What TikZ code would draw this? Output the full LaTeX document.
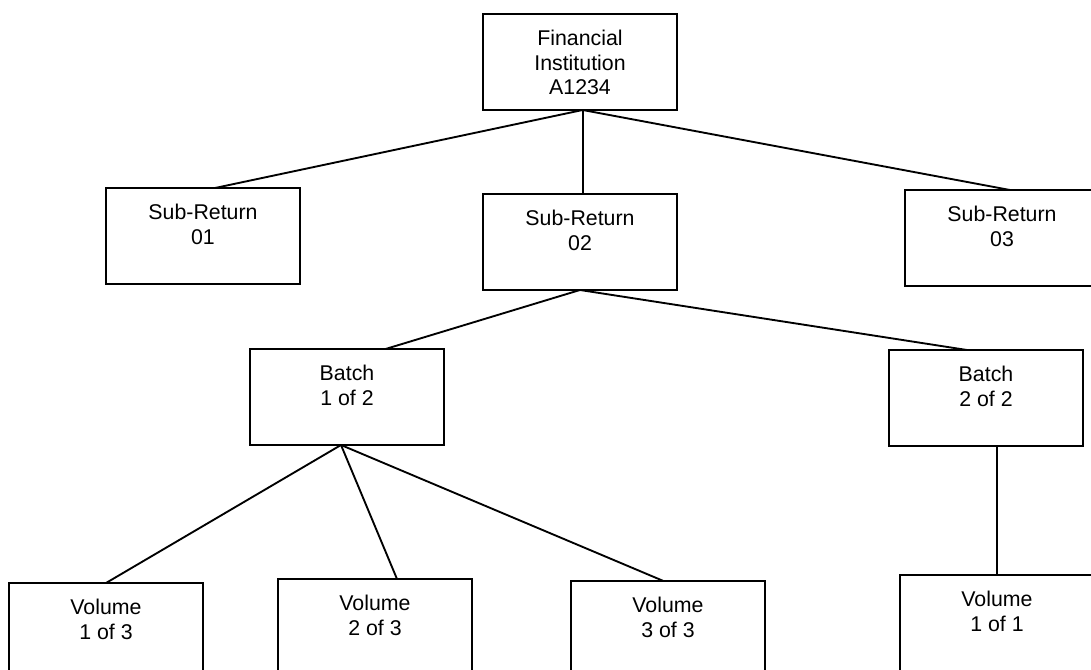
\documentclass[tikz,border=0pt]{standalone}
\usepackage{fontspec}
\setmainfont{Liberation Sans}
\tikzset{
  box/.style={draw, line width=1.4pt, rectangle, minimum width=145.5pt, minimum height=72pt, inner sep=0pt, outer sep=0pt, anchor=north west},
  lab/.style={inner sep=0pt, anchor=north, align=center, font=\fontsize{16}{18.4}\selectfont},
  conn/.style={line width=1.4pt}
}
\newcommand{\mkbox}[4]{%
  \node[box] (#1) at (#2,#3) {};
  \node[lab] (#1-t) at ([yshift=-12pt]#1.north) {#4};
}
\begin{document}
\begin{tikzpicture}[x=0.75pt,y=-0.75pt]
\useasboundingbox (0,0) rectangle (1091,670);
\fill[white] (0,0) rectangle (1091,670);
\clip (0,0) rectangle (1091,670);
\mkbox{fi}{483}{14}{Financial\\Institution\\A1234}
\mkbox{sra}{106}{188}{Sub-Return\\01}
\mkbox{srb}{483}{194}{Sub-Return\\02}
\mkbox{src}{905}{190}{Sub-Return\\03}
\mkbox{ba}{250}{349}{Batch\\1 of 2}
\mkbox{bb}{889}{350}{Batch\\2 of 2}
\mkbox{va}{9}{583}{Volume\\1 of 3}
\mkbox{vb}{278}{579}{Volume\\2 of 3}
\mkbox{vc}{571}{581}{Volume\\3 of 3}
\mkbox{vd}{900}{575}{Volume\\1 of 1}
\coordinate (fib) at ([xshift=2pt]fi.south);
\draw[conn] (fib) -- ([xshift=9pt]sra.north);
\draw[conn] (fib) -- ([xshift=2pt]srb.north);
\draw[conn] (fib) -- ([xshift=6pt]src.north);
\draw[conn] (srb.south) -- ([xshift=28.9pt]ba.north);
\draw[conn] (srb.south) -- ([xshift=-14.25pt]bb.north);
\coordinate (bab) at ([xshift=-4.5pt]ba.south);
\draw[conn] (bab) -- (va.north);
\draw[conn] (bab) -- ([xshift=16.5pt]vb.north);
\draw[conn] (bab) -- ([xshift=-3.4pt]vc.north);
\draw[conn] ([xshift=8.25pt]bb.south) -- (vd.north);
\end{tikzpicture}
\end{document}
